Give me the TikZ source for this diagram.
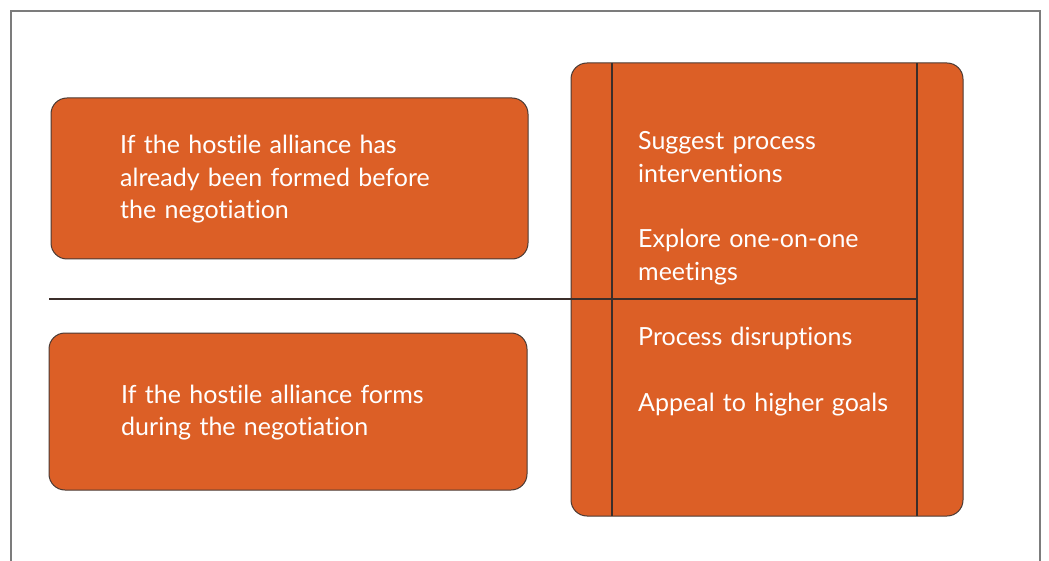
\documentclass[tikz,border=0pt]{standalone}
\usepackage{fontspec}
\setmainfont{Lato}[Ligatures=NoCommon]
\usepackage{tikz}
\definecolor{alliance}{HTML}{DC5F26}
\definecolor{rim}{HTML}{4A3A34}
\definecolor{frame}{HTML}{7C7C7C}

\begin{document}
\begin{tikzpicture}[
				x=1pt, y=-1pt,
				box/.style={draw=rim, line width=1pt, fill=alliance, rounded corners=16pt},
				label/.style={text=white, inner sep=0pt, align=left,
					font=\fontsize{25}{32.5}\selectfont},
				divider/.style={draw=rim!80!black, line width=1.8pt}
			]
			\useasboundingbox (0,0) rectangle (1049,561);

			% outer frame, open at the bottom
			\draw [frame, line width=2.2pt] (11,561) -- (11,11) -- (1040,11) -- (1040,561);

			\node [box, minimum width=477pt, minimum height=161pt] (formed) at (289.5,178.5) {};
			\node [box, minimum width=478pt, minimum height=157pt] (forms) at (288,411.5) {};
			\node [box, minimum width=392pt, minimum height=453pt] (tactics) at (767,289.5) {};

			\node [label, text width=330pt, anchor=base west] at (120,154) {If the hostile alliance has\\already been formed before\\the negotiation};
			\node [label, text width=330pt, anchor=base west] at (121,403) {If the hostile alliance forms\\during the negotiation};

			\node [label, text width=260pt, anchor=base west] (suggest) at (638,150) {Suggest process\\interventions};
			\node [label, text width=260pt, anchor=base west] (explore) at (638,248) {Explore one-on-one\\meetings};
			\node [label, text width=260pt, anchor=base west] (disrupt) at (638,345) {Process disruptions};
			\node [label, text width=260pt, anchor=base west] (appeal) at (638,411) {Appeal to higher goals};

			\coordinate (lefttop) at (612,63);
			\coordinate (leftbot) at (612,516);
			\coordinate (righttop) at (917,63);
			\coordinate (rightbot) at (917,516);
			\coordinate (split) at (49,299);
			\coordinate (splitend) at (917,299);

			\draw [divider] (lefttop) -- (leftbot);
			\draw [divider] (righttop) -- (rightbot);
			\draw [divider] (split) -- (splitend);
		\end{tikzpicture}
\end{document}
